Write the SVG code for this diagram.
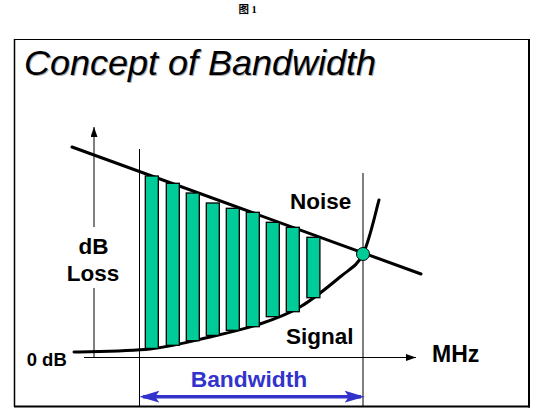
<svg xmlns="http://www.w3.org/2000/svg" width="544" height="418" viewBox="0 0 544 418">
  <style>
    .lbl { font-family: "Liberation Sans", Arial, sans-serif; font-weight: bold; fill: #000; }
    .thin { stroke: #000; stroke-width: 1; fill: none; }
    .thick { stroke: #000; stroke-width: 3; fill: none; stroke-linecap: round; }
    .bar { fill: #00CC99; stroke: #000; stroke-width: 1.3; }
  </style>
  <defs>
    <marker id="axisHead" viewBox="0 0 10 7" refX="10" refY="3.5" markerWidth="10" markerHeight="7" markerUnits="userSpaceOnUse" orient="auto">
      <path d="M0,0 L10,3.5 L0,7 Z" fill="#000"/>
    </marker>
    <marker id="bwHead" viewBox="0 0 20 12" refX="16.3" refY="6" markerWidth="20" markerHeight="12" markerUnits="userSpaceOnUse" orient="auto-start-reverse">
      <path d="M0,0 L20,6 L0,12 L4,6 Z" fill="#3333CC"/>
    </marker>
  </defs>
  <rect width="544" height="418" fill="#fff"/>

  <text id="caption" x="238.5" y="13" font-family="'Liberation Serif', 'Noto Sans CJK SC', serif" font-size="10.5" font-weight="bold" fill="#000">图 1</text>

  <g id="frame">
    <line x1="14" y1="39.5" x2="530" y2="39.5" stroke="#000" stroke-width="1.2"/>
    <line x1="14.5" y1="39" x2="14.5" y2="407" stroke="#000" stroke-width="1.5"/>
    <line x1="529" y1="39" x2="529" y2="407.5" stroke="#000" stroke-width="2"/>
    <line x1="14" y1="406.5" x2="530" y2="406.5" stroke="#000" stroke-width="2"/>
  </g>

  <g id="title" font-family="'Liberation Sans', Arial, sans-serif" font-style="italic" font-size="35">
    <text x="25" y="76" fill="#aaa" textLength="352" lengthAdjust="spacingAndGlyphs">Concept of Bandwidth</text>
    <text x="24" y="75" fill="#000" textLength="352" lengthAdjust="spacingAndGlyphs">Concept of Bandwidth</text>
  </g>

  <g id="connectors">
    <path id="y-axis-top" class="thin" d="M94,227 L94,127" marker-end="url(#axisHead)"/>
    <path id="y-axis-bottom" class="thin" d="M94,288 L94,358"/>
    <path id="x-axis" class="thin" d="M84,357.5 L416,357.5" marker-end="url(#axisHead)"/>
    <path id="band-left" class="thin" d="M139.5,149 L139.5,406"/>
    <path id="band-right" class="thin" d="M363,173 L363,406"/>
    <path id="noise-line" class="thick" d="M72,147 L421,274"/>
    <path id="signal-curve" class="thick" d="M74,352 C86.7,351.5 127.3,351.5 150,349 C172.7,346.5 191.7,341.2 210,337 C228.3,332.8 245,329 260,324 C275,319 286.7,314.8 300,307 C313.3,299.2 329.5,285.8 340,277 C350.5,268.2 356.5,266.8 363,254 C369.5,241.2 376.3,209 379,200"/>
    <path id="bandwidth-arrow" d="M143,396.7 L361,396.7" stroke="#3333CC" stroke-width="3.5" fill="none" marker-start="url(#bwHead)" marker-end="url(#bwHead)"/>
  </g>

  <g id="bars">
    <rect class="bar" x="145.3" y="176" width="13" height="172.4"/>
    <rect class="bar" x="166.3" y="183.3" width="13" height="162"/>
    <rect class="bar" x="186.3" y="193" width="13" height="147.7"/>
    <rect class="bar" x="206.3" y="203" width="13" height="132.4"/>
    <rect class="bar" x="226.3" y="208.3" width="13" height="122"/>
    <rect class="bar" x="246.3" y="212.3" width="13" height="114.4"/>
    <rect class="bar" x="266.3" y="222.3" width="13" height="94.4"/>
    <rect class="bar" x="286.3" y="227.3" width="13" height="84.4"/>
    <rect class="bar" x="306.9" y="237.3" width="13" height="60.4"/>
  </g>

  <g id="intersection">
    <circle cx="363" cy="254" r="6.5" fill="#00CC99" stroke="#000" stroke-width="1"/>
  </g>

  <g id="labels">
    <text class="lbl" x="290" y="209" font-size="22.5">Noise</text>
    <text class="lbl" x="286" y="344" font-size="22.5">Signal</text>
    <text class="lbl" x="93.5" y="254" font-size="22.5" text-anchor="middle">dB</text>
    <text class="lbl" x="93" y="281" font-size="22.5" text-anchor="middle">Loss</text>
    <text class="lbl" x="26.7" y="366" font-size="18.5">0 dB</text>
    <text class="lbl" x="432" y="362.3" font-size="23">MHz</text>
    <text class="lbl" x="190.7" y="386.7" font-size="22.8" style="fill:#3333CC">Bandwidth</text>
  </g>
</svg>
